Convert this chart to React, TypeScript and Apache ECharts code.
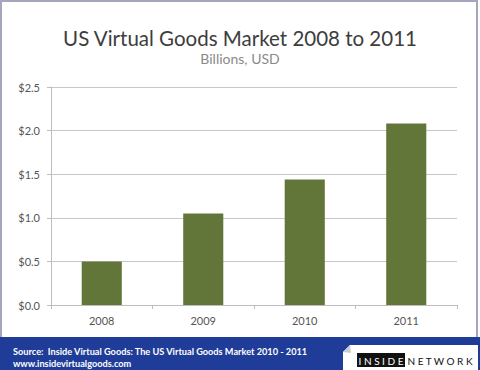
import React, { useEffect, useRef } from "react";
import * as echarts from "echarts";

const years = ["2008", "2009", "2010", "2011"];
const marketValues = [0.5, 1.05, 1.44, 2.08];
const titleText = "US Virtual Goods Market 2008 to 2011";
const subtitleText = "Billions, USD";
const sourceLine1 = "Source:  Inside Virtual Goods: The US Virtual Goods Market 2010 - 2011";
const sourceLine2 = "www.insidevirtualgoods.com";

export default function App() {
  const ref = useRef<HTMLDivElement>(null);
  useEffect(() => {
    if (!ref.current) return;
    const chart = echarts.init(ref.current, null, { renderer: "svg" });
    chart.setOption({
      animation: false,
      backgroundColor: "#ffffff",
      title: {
        text: titleText,
        subtext: subtitleText,
        left: "center",
        top: 22,
        itemGap: 3,
        textStyle: { fontFamily: "Lato", fontSize: 20.5, fontWeight: "normal", color: "#3d3d3d" },
        subtextStyle: { fontFamily: "Lato", fontSize: 14, color: "#8a8a8a" },
      },
      grid: { left: 51, right: 23, top: 87, bottom: 65 },
      xAxis: {
        type: "category",
        data: years,
        axisLine: { lineStyle: { color: "#bdbdbd" } },
        axisTick: { show: true, length: 4, lineStyle: { color: "#bdbdbd" } },
        axisLabel: { color: "#555", fontSize: 11, fontFamily: "Lato", margin: 10 },
      },
      yAxis: {
        type: "value",
        min: 0,
        max: 2.5,
        interval: 0.5,
        axisLine: { show: true, lineStyle: { color: "#bdbdbd" } },
        axisTick: { show: true, length: 4, lineStyle: { color: "#bdbdbd" } },
        splitLine: { lineStyle: { color: "#c8c8c8" } },
        axisLabel: {
          color: "#555",
          fontSize: 11,
          fontFamily: "Lato",
          margin: 11,
          formatter: (v: number) => "$" + v.toFixed(1),
        },
      },
      series: [
        {
          type: "bar",
          data: marketValues,
          barWidth: "39.5%",
          itemStyle: { color: "#62763a" },
        },
      ],
      graphic: [
        {
          type: "rect",
          shape: { x: 1, y: 1, width: 476, height: 368 },
          style: { fill: "none", stroke: "#a3a6bd", lineWidth: 2 },
          z: 10,
        },
        {
          type: "rect",
          shape: { x: 0, y: 337, width: 480, height: 33 },
          style: { fill: "#1f3d98" },
          z: 11,
        },
        {
          type: "text",
          x: 13,
          y: 351,
          style: {
            text: sourceLine1,
            fill: "#ffffff",
            fontSize: 9.2,
            fontWeight: "bold",
            fontFamily: "Lato",
            verticalAlign: "middle",
          },
          z: 12,
        },
        {
          type: "text",
          x: 13,
          y: 363,
          style: {
            text: sourceLine2,
            fill: "#ffffff",
            fontSize: 9.2,
            fontWeight: "bold",
            fontFamily: "Lato",
            verticalAlign: "middle",
          },
          z: 12,
        },
        {
          type: "polygon",
          shape: { points: [[343, 352], [350, 345], [478, 345], [478, 370], [343, 370]] },
          style: { fill: "#ffffff" },
          z: 12,
        },
        {
          type: "polygon",
          shape: { points: [[343, 352], [350, 345], [351, 353]] },
          style: { fill: "#c9ccd6" },
          z: 13,
        },
        {
          type: "rect",
          shape: { x: 357, y: 353, width: 48, height: 14 },
          style: { fill: "#111111" },
          z: 13,
        },
        {
          type: "text",
          x: 381,
          y: 360.5,
          style: {
            text: "I N S I D E",
            fill: "#ffffff",
            fontSize: 10,
            fontFamily: "Lato",
            align: "center",
            verticalAlign: "middle",
          },
          z: 14,
        },
        {
          type: "text",
          x: 440,
          y: 360.5,
          style: {
            text: "N E T W O R K",
            fill: "#111111",
            fontSize: 10,
            fontFamily: "Lato",
            align: "center",
            verticalAlign: "middle",
          },
          z: 14,
        },
      ],
    });
    return () => chart.dispose();
  }, []);
  return (
    <div
      ref={ref}
      style={{ position: "fixed", left: 0, top: 0, width: 480, height: 370 }}
    />
  );
}
